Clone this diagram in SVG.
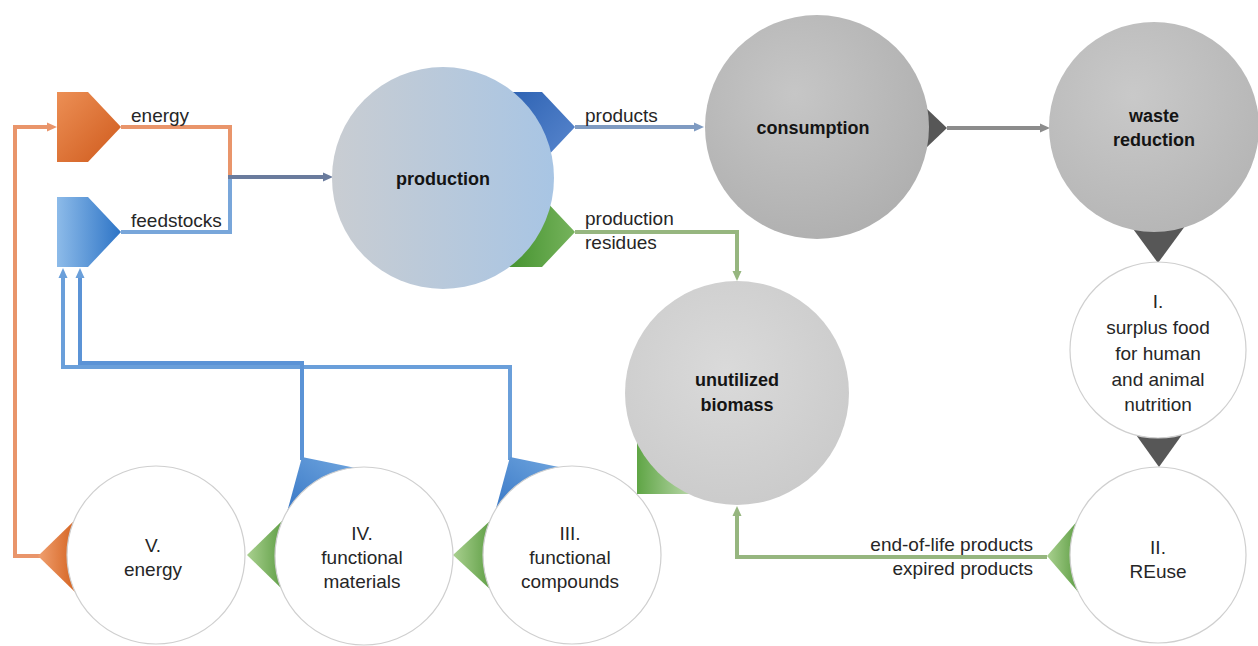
<svg xmlns="http://www.w3.org/2000/svg" width="1258" height="646" viewBox="0 0 1258 646">
<style>
  .lbl{font-family:"Liberation Sans",Arial,sans-serif;font-size:19px;fill:#262626}
  .bold{font-family:"Liberation Sans",Arial,sans-serif;font-size:18px;font-weight:bold;fill:#141414;text-anchor:middle}
  .mid{text-anchor:middle}
  .end{text-anchor:end}
  .wc{fill:#ffffff;stroke:#cfcfcf;stroke-width:1.2}
  .ln{fill:none;stroke-width:4;stroke-linejoin:miter}
  .dark{fill:#575757}
</style>
<defs>
  <linearGradient id="gOr" x1="0" y1="0" x2="1" y2="1"><stop offset="0" stop-color="#ec8f55"/><stop offset="1" stop-color="#cf5a1c"/></linearGradient>
  <linearGradient id="gBl" x1="0" y1="0" x2="1" y2="0"><stop offset="0" stop-color="#8dbbe9"/><stop offset="1" stop-color="#2d74c6"/></linearGradient>
  <linearGradient id="gBl2" x1="0" y1="0" x2="1" y2="1"><stop offset="0" stop-color="#2e63b3"/><stop offset="1" stop-color="#5b88cf"/></linearGradient>
  <linearGradient id="gBl3" x1="0" y1="1" x2="1" y2="0"><stop offset="0" stop-color="#2f70c2"/><stop offset="1" stop-color="#7aaee3"/></linearGradient>
  <linearGradient id="gGr" x1="0" y1="0" x2="1" y2="0"><stop offset="0" stop-color="#3f8f2a"/><stop offset="1" stop-color="#76b35c"/></linearGradient>
  <linearGradient id="gGr2" x1="0" y1="0" x2="1" y2="0"><stop offset="0" stop-color="#a9d08f"/><stop offset="1" stop-color="#5d9d43"/></linearGradient>
  <linearGradient id="gGr3" x1="0" y1="0" x2="1" y2="0"><stop offset="0" stop-color="#5fa545"/><stop offset="1" stop-color="#c7dfb9"/></linearGradient>
  <linearGradient id="gOr2" x1="0" y1="0" x2="1" y2="0"><stop offset="0" stop-color="#f0a070"/><stop offset="1" stop-color="#d4621f"/></linearGradient>
  <linearGradient id="gProd" x1="0" y1="0" x2="1" y2="0"><stop offset="0" stop-color="#c9cdd2"/><stop offset="1" stop-color="#a8c5e4"/></linearGradient>
  <radialGradient id="gCons" cx="0.4" cy="0.35" r="0.7"><stop offset="0" stop-color="#c6c6c6"/><stop offset="1" stop-color="#afafaf"/></radialGradient>
  <radialGradient id="gWaste" cx="0.4" cy="0.35" r="0.7"><stop offset="0" stop-color="#c9c9c9"/><stop offset="1" stop-color="#b5b5b5"/></radialGradient>
  <radialGradient id="gUnu" cx="0.45" cy="0.4" r="0.7"><stop offset="0" stop-color="#dadada"/><stop offset="1" stop-color="#c9c9c9"/></radialGradient>
  <marker id="aOr" markerUnits="userSpaceOnUse" markerWidth="10" markerHeight="10" viewBox="0 -5 10 10" refX="0" refY="0" orient="auto"><path d="M0,-4.5 L10,0 L0,4.5 z" fill="#e9956b"/></marker>
  <marker id="aBl" markerUnits="userSpaceOnUse" markerWidth="10" markerHeight="10" viewBox="0 -5 10 10" refX="0" refY="0" orient="auto"><path d="M0,-4.5 L10,0 L0,4.5 z" fill="#6a9fda"/></marker>
  <marker id="aDk" markerUnits="userSpaceOnUse" markerWidth="10" markerHeight="10" viewBox="0 -5 10 10" refX="0" refY="0" orient="auto"><path d="M0,-4.5 L10,0 L0,4.5 z" fill="#6a7b9d"/></marker>
  <marker id="aPr" markerUnits="userSpaceOnUse" markerWidth="10" markerHeight="10" viewBox="0 -5 10 10" refX="0" refY="0" orient="auto"><path d="M0,-4.5 L10,0 L0,4.5 z" fill="#7f9bc2"/></marker>
  <marker id="aGn" markerUnits="userSpaceOnUse" markerWidth="10" markerHeight="10" viewBox="0 -5 10 10" refX="0" refY="0" orient="auto"><path d="M0,-4.5 L10,0 L0,4.5 z" fill="#96b67f"/></marker>
  <marker id="aGy" markerUnits="userSpaceOnUse" markerWidth="10" markerHeight="10" viewBox="0 -5 10 10" refX="0" refY="0" orient="auto"><path d="M0,-4.5 L10,0 L0,4.5 z" fill="#8c8c8c"/></marker>
</defs>
<rect x="0" y="0" width="1258" height="646" fill="#ffffff"/>

<g id="connectors">
  <path class="ln" stroke="#e9956b" d="M121,127 H230 V177"/>
  <path class="ln" stroke="#78a6da" d="M121,232 H230 V177"/>
  <path class="ln" stroke="#6a7b9d" d="M228,177 H323" marker-end="url(#aDk)"/>
  <path class="ln" stroke="#7f9bc2" d="M575,127 H694" marker-end="url(#aPr)"/>
  <path class="ln" stroke="#96b67f" d="M575,232 H737 V271" marker-end="url(#aGn)"/>
  <path class="ln" stroke="#8c8c8c" d="M947,128 H1040" marker-end="url(#aGy)"/>
  <path class="ln" stroke="#96b67f" d="M1047,557 H737 V516" marker-end="url(#aGn)"/>
  <path class="ln" stroke="#e9956b" d="M40,556 H15 V127 H47" marker-end="url(#aOr)"/>
  <path class="ln" stroke="#6a9fda" d="M510,460 V367 H63 V278" marker-end="url(#aBl)"/>
  <path class="ln" stroke="#5b93d6" d="M302,460 V363 H80 V278" marker-end="url(#aBl)"/>
</g>

<g id="energy-in">
  <polygon points="57,92 88,92 121,127 88,162 57,162" fill="url(#gOr)"/>
  <text class="lbl" x="131" y="122">energy</text>
</g>
<g id="feedstocks">
  <polygon points="57,197 88,197 121,232 88,267 57,267" fill="url(#gBl)"/>
  <text class="lbl" x="131" y="227">feedstocks</text>
</g>

<g id="production">
  <polygon points="510,92 542,92 575,127 542,162 510,162" fill="url(#gBl2)"/>
  <polygon points="500,197 542,197 575,232 542,267 500,267" fill="url(#gGr)"/>
  <circle cx="443" cy="178" r="111" fill="url(#gProd)"/>
  <text class="bold" x="443" y="185">production</text>
  <text class="lbl" x="585" y="122">products</text>
  <text class="lbl" x="585" y="225">production</text>
  <text class="lbl" x="585" y="249">residues</text>
</g>

<g id="consumption">
  <polygon class="dark" points="905,88 947,128 905,168"/>
  <circle cx="817" cy="127" r="112" fill="url(#gCons)"/>
  <text class="bold" x="813" y="134">consumption</text>
</g>

<g id="waste-reduction">
  <polygon class="dark" points="1128,222 1188,222 1158,263"/>
  <circle cx="1154" cy="127" r="105" fill="url(#gWaste)"/>
  <text class="bold" x="1154" y="122">waste</text>
  <text class="bold" x="1154" y="146">reduction</text>
</g>

<g id="surplus-food">
  <polygon class="dark" points="1124,418 1194,418 1159,467"/>
  <circle class="wc" cx="1158" cy="350" r="88"/>
  <text class="lbl mid" x="1158" y="308">I.</text>
  <text class="lbl mid" x="1158" y="334">surplus food</text>
  <text class="lbl mid" x="1158" y="360">for human</text>
  <text class="lbl mid" x="1158" y="386">and animal</text>
  <text class="lbl mid" x="1158" y="411">nutrition</text>
</g>

<g id="reuse">
  <polygon points="1047,556 1079,519 1079,593" fill="url(#gGr2)"/>
  <circle class="wc" cx="1158" cy="555" r="88"/>
  <text class="lbl mid" x="1158" y="554">II.</text>
  <text class="lbl mid" x="1158" y="578">REuse</text>
  <text class="lbl end" x="1033" y="551">end-of-life products</text>
  <text class="lbl end" x="1033" y="575">expired products</text>
</g>

<g id="unutilized-biomass">
  <polygon points="637,440 700,440 700,494 637,494" fill="url(#gGr3)"/>
  <circle cx="737" cy="393" r="112" fill="url(#gUnu)"/>
  <text class="bold" x="737" y="386">unutilized</text>
  <text class="bold" x="737" y="411">biomass</text>
</g>

<g id="functional-compounds">
  <polygon points="510,457 588,473 491,527" fill="url(#gBl3)"/>
  <polygon points="453,555 492,519 492,591" fill="url(#gGr2)"/>
  <circle class="wc" cx="572" cy="555" r="89"/>
  <text class="lbl mid" x="570" y="540">III.</text>
  <text class="lbl mid" x="570" y="564">functional</text>
  <text class="lbl mid" x="570" y="588">compounds</text>
</g>

<g id="functional-materials">
  <polygon points="302,457 380,473 283,527" fill="url(#gBl3)"/>
  <polygon points="247,555 284,519 284,591" fill="url(#gGr2)"/>
  <circle class="wc" cx="364" cy="556" r="89"/>
  <text class="lbl mid" x="362" y="540">IV.</text>
  <text class="lbl mid" x="362" y="564">functional</text>
  <text class="lbl mid" x="362" y="588">materials</text>
</g>

<g id="energy-out">
  <polygon points="38,556 76,519 76,593" fill="url(#gOr2)"/>
  <circle class="wc" cx="156" cy="555" r="89"/>
  <text class="lbl mid" x="153" y="552">V.</text>
  <text class="lbl mid" x="153" y="576">energy</text>
</g>
</svg>
